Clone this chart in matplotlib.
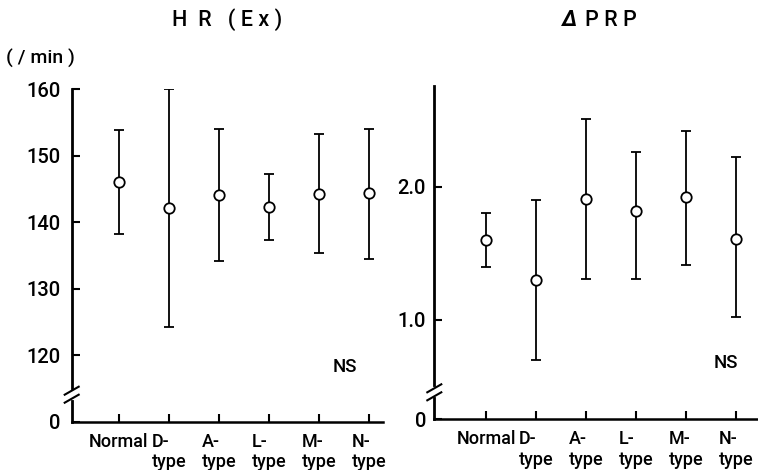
import matplotlib
matplotlib.use("Agg")
import matplotlib.pyplot as plt
import numpy as np

plt.rcParams['font.family'] = ['Roboto', 'Liberation Sans', 'DejaVu Sans']
plt.rcParams['font.weight'] = 'medium'

# groups on the x axis
groups = ["Normal", "D-\ntype", "A-\ntype", "L-\ntype", "M-\ntype", "N-\ntype"]

# HR (Ex), /min : mean and range
hr_mean = [146.1, 142.1, 144.1, 142.3, 144.2, 144.4]
hr_upper = [153.9, 160.0, 154.1, 147.2, 153.3, 154.1]
hr_lower = [138.2, 124.3, 134.2, 137.4, 135.4, 134.4]
hr_ticks = [0, 120, 130, 140, 150, 160]
hr_ticklabels = ["0", "120", "130", "140", "150", "160"]

# delta PRP
prp_mean = [1.60, 1.30, 1.91, 1.82, 1.92, 1.61]
prp_upper = [1.80, 1.90, 2.51, 2.26, 2.42, 2.22]
prp_lower = [1.40, 0.70, 1.31, 1.31, 1.41, 1.02]
prp_ticks = [0, 1.0, 2.0]
prp_ticklabels = ["0", "1.0", "2.0"]

W, H = 758, 470


# broken axis scales (compressed part near zero)
def hr_fwd(v):
    v = np.asarray(v, dtype=float)
    return np.where(v >= 115, v - 110, v * 5 / 115)


def hr_inv(y):
    y = np.asarray(y, dtype=float)
    return np.where(y >= 5, y + 110, y * 115 / 5)


def prp_fwd(v):
    v = np.asarray(v, dtype=float)
    return np.where(v >= 0.5, v - 0.255, v * 0.245 / 0.5)


def prp_inv(y):
    y = np.asarray(y, dtype=float)
    return np.where(y >= 0.245, y + 0.255, y * 0.5 / 0.245)


def px_axes(left, right, bottom, top):
    return [left / W, (H - bottom) / H, (right - left) / W, (bottom - top) / H]


fig = plt.figure(figsize=(W / 100, H / 100), dpi=100)

ax1 = fig.add_axes(px_axes(71.7, 383, 421.7, 89.3))
ax2 = fig.add_axes(px_axes(434.3, 758, 419.3, 85.7))


def draw_panel(ax, mean, lower, upper, fwd, inv, ticks, ticklabels, ylim, xlim, pad):
    x = np.arange(len(groups))
    mean = np.array(mean)
    yerr = [mean - np.array(lower), np.array(upper) - mean]
    ax.set_yscale("function", functions=(fwd, inv))
    ax.errorbar(x, mean, yerr=yerr, fmt="o", mfc="white", mec="black", ms=7.5,
                mew=1.3, ecolor="black", elinewidth=1.3, capsize=3.6,
                capthick=1.5, zorder=3)
    ax.set_ylim(*ylim)
    ax.set_xlim(*xlim)
    ax.set_yticks(ticks, ticklabels)
    ax.yaxis.set_minor_locator(matplotlib.ticker.NullLocator())
    ax.set_xticks(x, groups)
    for lbl in ax.get_xticklabels():
        lbl.set_multialignment("left")
        lbl.set_linespacing(1.15)
    ax.tick_params(axis="y", direction="in", length=6, width=1.5,
                   labelsize=14.5, pad=pad)
    ax.tick_params(axis="x", direction="in", length=6, width=1.5,
                   labelsize=13, pad=8)
    for s in ["top", "right"]:
        ax.spines[s].set_visible(False)
    ax.spines["left"].set_linewidth(2.0)
    ax.spines["bottom"].set_linewidth(1.8)

    # axis break marks
    hpx = ax.bbox.height
    wpx = ax.bbox.width
    y1 = 31 / hpx
    y2 = 23 / hpx
    dx = 7 / wpx
    dy = 4 / hpx
    ax.plot([0, 0], [y2 + 1 / hpx, y1 - 1 / hpx], color="white", lw=3,
            transform=ax.transAxes, clip_on=False, zorder=5)
    for yc in (y1, y2):
        ax.plot([-dx, dx], [yc - dy, yc + dy], color="black", lw=1.5,
                transform=ax.transAxes, clip_on=False, zorder=6)


draw_panel(ax1, hr_mean, hr_lower, hr_upper, hr_fwd, hr_inv,
           hr_ticks, hr_ticklabels, (0, 160), (-0.946, 5.28), 8)
draw_panel(ax2, prp_mean, prp_lower, prp_upper, prp_fwd, prp_inv,
           prp_ticks, prp_ticklabels, (0, 2.757), (-1.04, 5.44), 6)

fig.text(227 / W, 1 - 20 / H, "H  R   ( E x )", ha="center", va="center", fontsize=15.5)
fig.text(570 / W, 1 - 20 / H, "Δ", ha="center", va="center", fontsize=15.5,
         fontstyle="italic", fontweight="bold")
fig.text(611 / W, 1 - 20 / H, "P R P", ha="center", va="center", fontsize=15.5)
fig.text(6 / W, 1 - 58 / H, "( / min )", ha="left", va="center", fontsize=14)
fig.text(345 / W, 1 - 367 / H, "NS", ha="center", va="center", fontsize=13.5)
fig.text(726 / W, 1 - 363 / H, "NS", ha="center", va="center", fontsize=13.5)

fig.savefig("out.png", dpi=100)
